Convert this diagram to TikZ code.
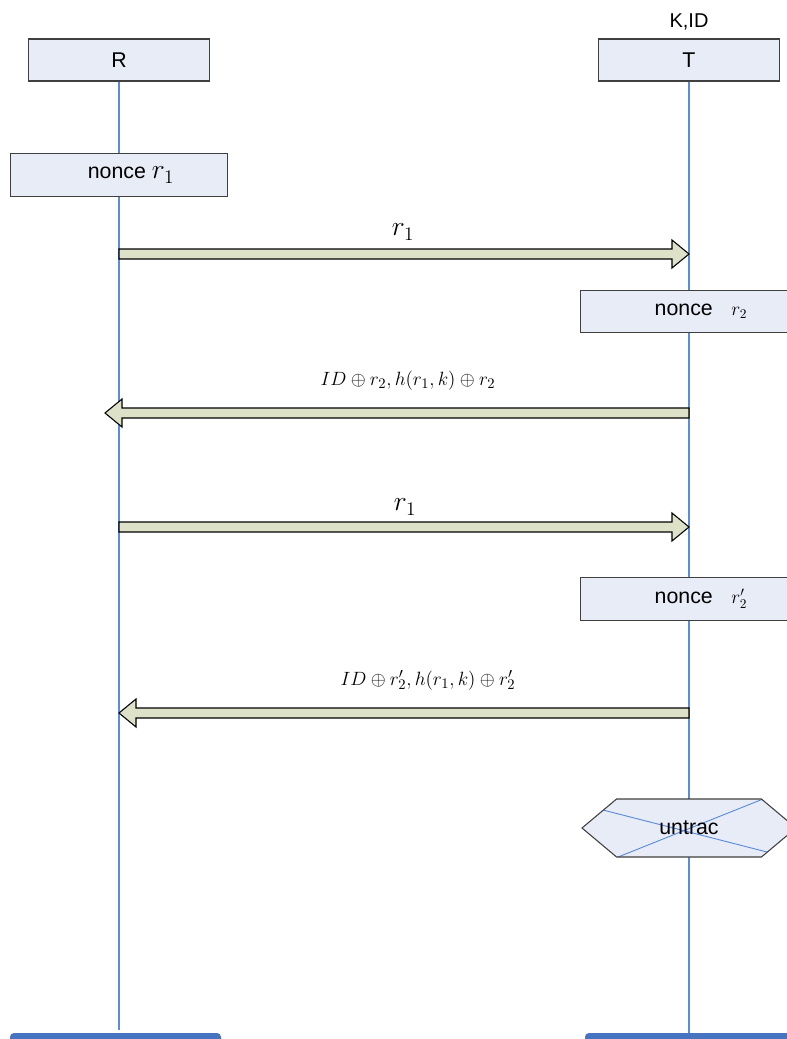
\documentclass[tikz,border=0pt]{standalone}
\usepackage{fontspec}
\setmainfont{Liberation Sans}
\usetikzlibrary{positioning, calc, shapes.symbols}
\definecolor{boxfill}{HTML}{E8ECF7}
\definecolor{lifeblue}{HTML}{5A8CDA}
\definecolor{arrfill}{HTML}{DDE1C8}
\definecolor{barblue}{HTML}{4674C1}
\tikzset{
  ent/.style = {draw=black!75, fill=boxfill, line width=0.8pt,
    minimum width=135.75pt, minimum height=31.5pt, inner sep=0pt,
    font=\fontsize{16}{19}\selectfont},
  nbox/.style = {ent, minimum width=162.75pt, minimum height=32pt},
  life/.style = {draw=lifeblue, line width=0.9pt},
  blk/.style = {fill=arrfill, draw=black, line width=0.8pt, line join=miter},
  mlab/.style = {font=\fontsize{15}{17}\selectfont, inner sep=0pt},
  rlab/.style = {font=\fontsize{21}{23}\selectfont, inner sep=0pt},
  cruz/.style = {draw=lifeblue, line width=0.7pt},
  sig/.style = {signal, signal to=west and east, signal pointer angle=80,
    draw=black!75, fill=boxfill, line width=0.8pt, inner sep=0pt,
    minimum width=160.5pt, minimum height=43.5pt,
    font=\fontsize{16}{19}\selectfont},
  bar/.style = {fill=barblue, rounded corners=3pt}
}
% block arrow from #1 to #2, #3 = direction (1 right, -1 left)
\newcommand{\msg}[3]{%
  \draw [blk] ($(#1)+(0,-5)$) -- ($(#2)+({-17*(#3)},-5)$)
    -- ($(#2)+({-17*(#3)},-14)$) -- (#2) -- ($(#2)+({-17*(#3)},14)$)
    -- ($(#2)+({-17*(#3)},5)$) -- ($(#1)+(0,5)$) -- cycle;}

\begin{document}
\begin{tikzpicture}[x=0.75pt, y=-0.75pt]
  \useasboundingbox (0,0) rectangle (787,1039);
  \clip (0,0) rectangle (787,1039);

  % entidades e linhas de vida
  \node [ent] (R) at (119,60) {R};
  \node [ent] (T) at (689,60) {T};
  \node [font=\fontsize{15}{18}\selectfont, inner sep=0pt, above=6pt of T] (kid) {K,ID};
  \coordinate (Rend) at (119,1030);
  \coordinate (Tend) at (689,1039);
  \draw [life] (R.south) -- (Rend);
  \draw [life] (T.south) -- (Tend);

  % nonces
  \node [nbox] (n1) at (119,175) {\hspace{18pt}nonce \fontsize{21}{23}\selectfont$r_1$};
  \node [nbox] (n2) at (689,311.5) {\hspace{18pt}nonce\hspace{14pt}\fontsize{14}{16}\selectfont$r_2$};
  \node [nbox] (n3) at (689,599) {\hspace{18pt}nonce\hspace{14pt}\fontsize{14}{16}\selectfont$r_2'$};

  % mensagens
  \coordinate (a1s) at (119,254); \coordinate (a1e) at (689,254);
  \msg{a1s}{a1e}{1}
  \node [rlab] (l1) at (403,232) {$r_1$};

  \coordinate (a2s) at (689,413); \coordinate (a2e) at (105,413);
  \msg{a2s}{a2e}{-1}
  \node [mlab] (l2) at (408,381) {$ID\oplus r_2, h\bigl(r_1,k\bigr)\oplus r_2$};

  \coordinate (a3s) at (119,527); \coordinate (a3e) at (689,527);
  \msg{a3s}{a3e}{1}
  \node [rlab] (l3) at (405,507) {$r_1$};

  \coordinate (a4s) at (689,713); \coordinate (a4e) at (119,713);
  \msg{a4s}{a4e}{-1}
  \node [mlab] (l4) at (428,680) {$ID\oplus r_2', h\bigl(r_1,k\bigr)\oplus r_2'$};

  % untrac
  \node [sig, path picture={
      \draw [cruz] ($(path picture bounding box.north east)+(-33,0)$)
        -- ($(path picture bounding box.south west)+(36,0)$);
      \draw [cruz] ($(path picture bounding box.north west)+(21,11)$)
        -- ($(path picture bounding box.south east)+(-29,-5)$);
    }] (unt) at (689,828) {untrac};

  % barras de baixo
  \fill [bar] (10,1033) rectangle (221,1060);
  \fill [bar] (585,1033) rectangle (800,1060);
\end{tikzpicture}
\end{document}
